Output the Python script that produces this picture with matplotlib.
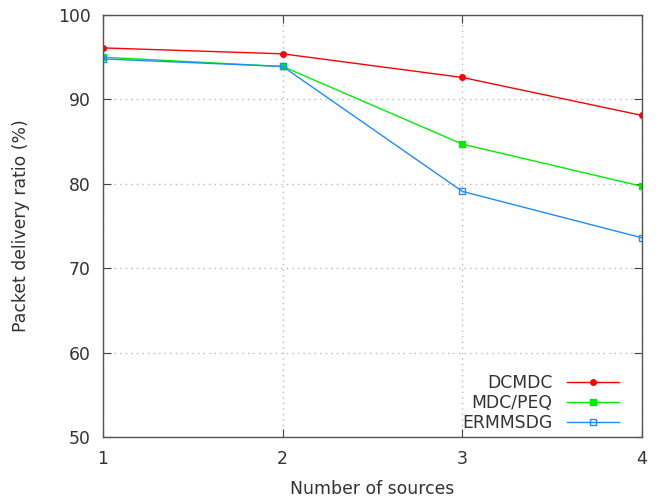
import matplotlib
matplotlib.use("Agg")
import matplotlib.pyplot as plt

x = [1, 2, 3, 4]
dcmdc = [96.1, 95.4, 92.6, 88.1]
mdcpeq = [95.0, 93.9, 84.7, 79.7]
ermmsdg = [94.8, 93.9, 79.1, 73.6]
xticks = [1, 2, 3, 4]
yticks = [50, 60, 70, 80, 90, 100]

plt.rcParams['font.family'] = ['DejaVu Sans']
plt.rcParams['font.size'] = 12.4
tc = '#333333'

fig = plt.figure(figsize=(6.58, 4.98), dpi=100)
ax = fig.add_axes([103/658, 1-437/498, (642-103)/658, (437-15)/498])

ax.plot(x, dcmdc, color='#ff0000', lw=1, marker='o', ms=4, label='DCMDC')
ax.plot(x, mdcpeq, color='#00ee00', lw=1, marker='s', ms=5, label='MDC/PEQ')
ax.plot(x, ermmsdg, color='#1e8cff', lw=1, marker='s', ms=5, mfc='none', mew=1, label='ERMMSDG')

ax.set_xlim(1, 4)
ax.set_ylim(50, 100)
ax.set_xticks(xticks)
ax.set_yticks(yticks)
ax.grid(True, color='#b8b8b8', linestyle=(0, (1, 3)), lw=1)
ax.tick_params(direction='in', top=True, right=True, length=6, colors='#444444', labelcolor=tc, pad=9)
for s in ax.spines.values():
    s.set_color('#555555')
    s.set_linewidth(1)
ax.set_xlabel('Number of sources', color=tc, labelpad=9)
ax.set_ylabel('Packet delivery ratio (%)', color=tc, labelpad=20)

leg = ax.legend(loc='lower right', frameon=False, markerfirst=False, handlelength=3.0,
                labelspacing=0.12, borderaxespad=0.3, handletextpad=0.85, fontsize=12.4,
                bbox_to_anchor=(0.979, -0.016))
for t in leg.get_texts():
    t.set_color(tc)

fig.savefig('out.png', dpi=100)
